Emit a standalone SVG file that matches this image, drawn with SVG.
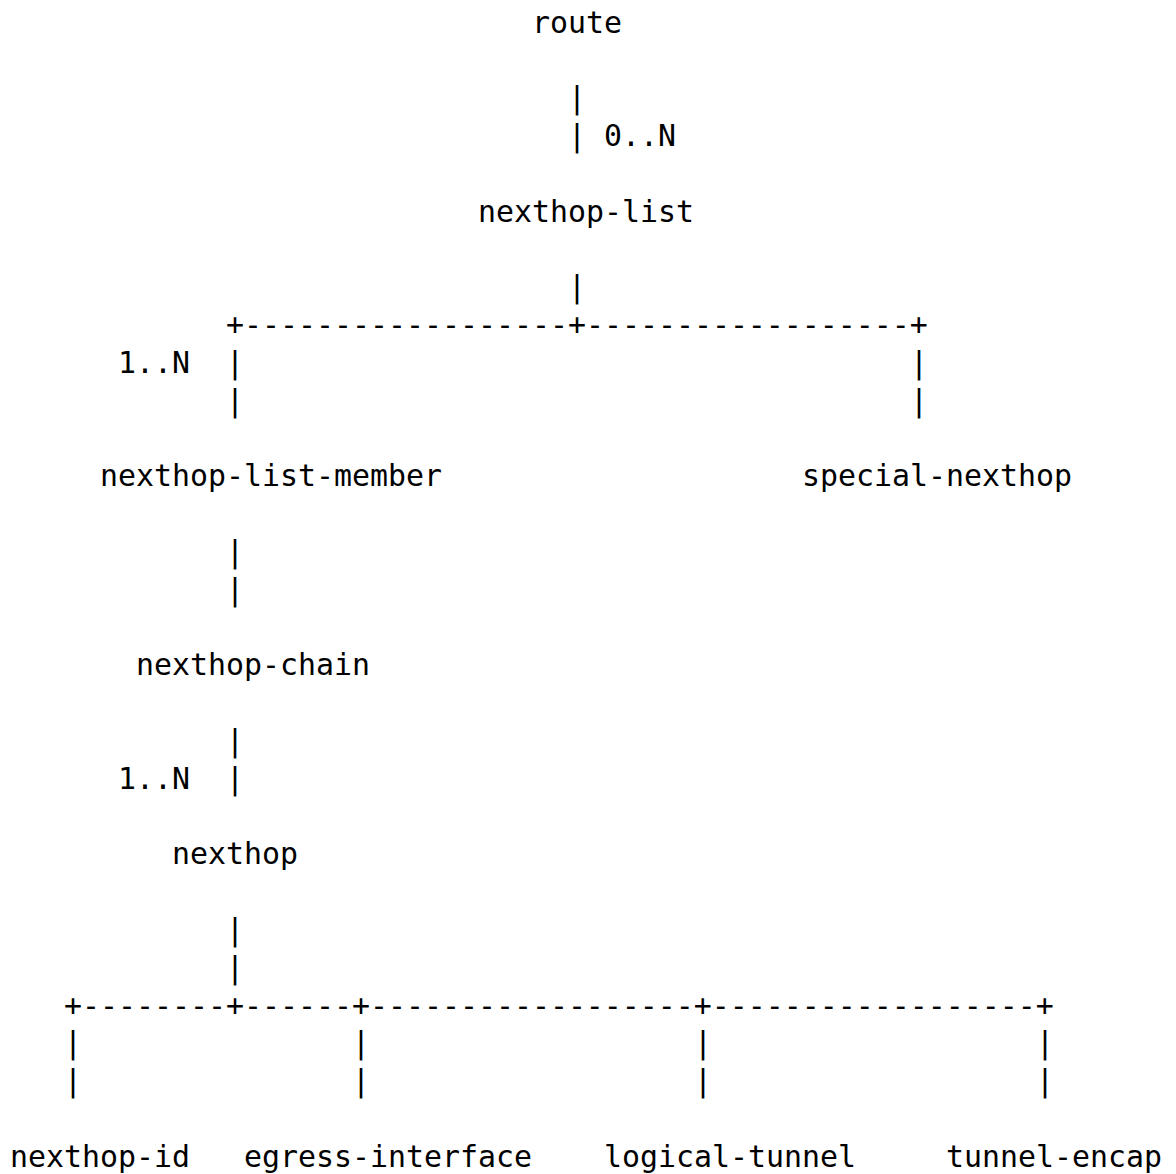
<svg xmlns="http://www.w3.org/2000/svg" width="1176" height="1174" viewBox="0 0 1176 1174">
<style>
text { font-family: "DejaVu Sans Mono", "Liberation Mono", monospace; font-size: 29.9px; fill: #000; white-space: pre; }
</style>
<rect x="0" y="0" width="1176" height="1174" fill="#fff"/>
<g id="connectors">
  <text x="568" y="108.3">|</text>
  <text x="568" y="146.1">|</text>
  <text x="604" y="146.1">0..N</text>
  <text x="568" y="297.3">|</text>
  <text x="226" y="335.1">+------------------+------------------+</text>
  <text x="118" y="372.9">1..N</text>
  <text x="226" y="372.9">|</text>
  <text x="910" y="372.9">|</text>
  <text x="226" y="410.7">|</text>
  <text x="910" y="410.7">|</text>
  <text x="226" y="561.9">|</text>
  <text x="226" y="599.7">|</text>
  <text x="226" y="750.9">|</text>
  <text x="118" y="788.7">1..N</text>
  <text x="226" y="788.7">|</text>
  <text x="226" y="939.9">|</text>
  <text x="226" y="977.7">|</text>
  <text x="64" y="1015.5">+--------+------+------------------+------------------+</text>
  <text x="64" y="1053.3">|</text>
  <text x="352" y="1053.3">|</text>
  <text x="694" y="1053.3">|</text>
  <text x="1036" y="1053.3">|</text>
  <text x="64" y="1091.1">|</text>
  <text x="352" y="1091.1">|</text>
  <text x="694" y="1091.1">|</text>
  <text x="1036" y="1091.1">|</text>
</g>
<g id="route"><text x="532" y="32.7">route</text></g>
<g id="nexthop-list"><text x="478" y="221.7">nexthop-list</text></g>
<g id="nexthop-list-member"><text x="100" y="486.3">nexthop-list-member</text></g>
<g id="special-nexthop"><text x="802" y="486.3">special-nexthop</text></g>
<g id="nexthop-chain"><text x="136" y="675.3">nexthop-chain</text></g>
<g id="nexthop"><text x="172" y="864.3">nexthop</text></g>
<g id="nexthop-id"><text x="10" y="1166.7">nexthop-id</text></g>
<g id="egress-interface"><text x="244" y="1166.7">egress-interface</text></g>
<g id="logical-tunnel"><text x="604" y="1166.7">logical-tunnel</text></g>
<g id="tunnel-encap"><text x="946" y="1166.7">tunnel-encap</text></g>
</svg>
